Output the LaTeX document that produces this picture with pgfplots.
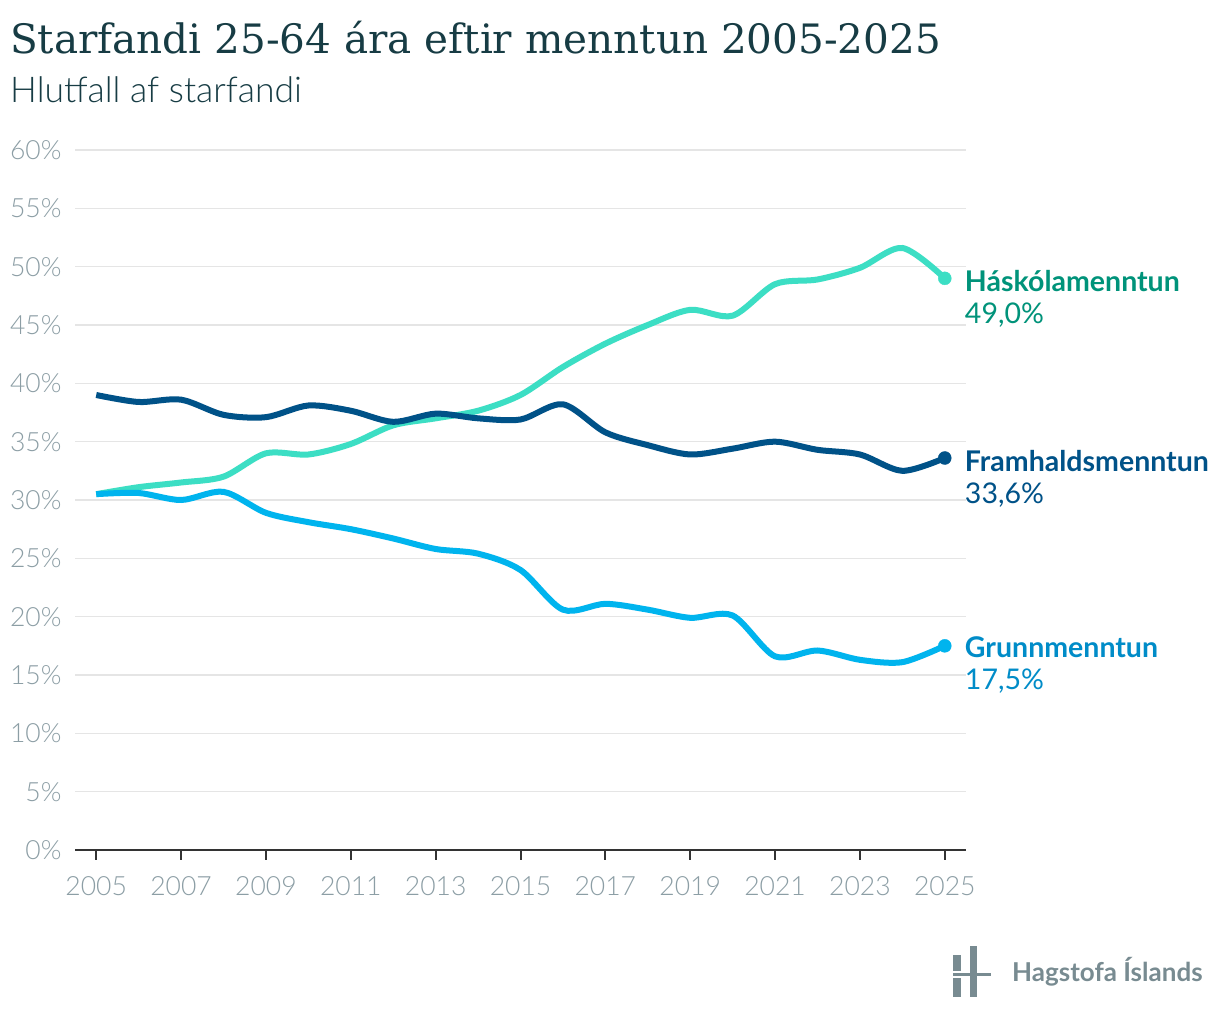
\documentclass[border=0pt]{standalone}
\usepackage{pgfplots}
\pgfplotsset{compat=1.18}
\usepackage{fontspec}
\setmainfont{Lato}
\newfontfamily\latolight{Lato Light}
\newfontfamily\titlefont{DejaVu Serif}
\definecolor{titlecol}{RGB}{23,60,68}
\definecolor{tickcol}{RGB}{140,158,165}
\definecolor{gridcol}{RGB}{229,229,229}
\definecolor{haskline}{RGB}{60,222,196}
\definecolor{hasktext}{RGB}{0,147,122}
\definecolor{framline}{RGB}{0,82,136}
\definecolor{framtext}{RGB}{0,82,136}
\definecolor{grunline}{RGB}{0,180,238}
\definecolor{gruntext}{RGB}{0,140,200}
\definecolor{logocol}{RGB}{120,139,145}

\pgfplotstableread{
year v
2005 30.5
2006 31.1
2007 31.5
2008 32.0
2009 34.0
2010 33.9
2011 34.8
2012 36.4
2013 37.0
2014 37.65
2015 39.0
2016 41.4
2017 43.4
2018 45.0
2019 46.3
2020 45.8
2021 48.5
2022 48.9
2023 49.9
2024 51.6
2025 49.0
}\haskoli

\pgfplotstableread{
year v
2005 39.0
2006 38.4
2007 38.6
2008 37.3
2009 37.1
2010 38.1
2011 37.65
2012 36.7
2013 37.4
2014 37.0
2015 36.9
2016 38.2
2017 35.8
2018 34.7
2019 33.9
2020 34.4
2021 35.0
2022 34.3
2023 33.9
2024 32.5
2025 33.6
}\framhald

\pgfplotstableread{
year v
2005 30.5
2006 30.6
2007 30.0
2008 30.7
2009 28.9
2010 28.1
2011 27.5
2012 26.7
2013 25.8
2014 25.4
2015 24.0
2016 20.6
2017 21.1
2018 20.6
2019 19.9
2020 20.1
2021 16.6
2022 17.1
2023 16.3
2024 16.1
2025 17.5
}\grunn

\begin{document}
\begin{tikzpicture}
\fill[white] (0pt,0pt) rectangle (1220pt,1022pt);
\path[use as bounding box] (0pt,0pt) rectangle (1220pt,1022pt);
\node[anchor=base west, inner sep=0pt, text=titlecol, font=\titlefont\fontsize{40.5}{46}\selectfont] at (10pt,968pt) {Starfandi 25-64 ára eftir menntun 2005-2025};
\node[anchor=base west, inner sep=0pt, text=titlecol, font=\latolight\fontsize{35.5}{40}\selectfont] at (10pt,919pt) {Hlutfall af starfandi};

\begin{axis}[
  at={(75pt,172pt)}, anchor=south west,
  width=891pt, height=700pt, scale only axis,
  xmin=2004.5, xmax=2025.5, ymin=0, ymax=60,
  axis x line*=bottom, axis y line*=left,
  x axis line style={-, draw=black!80, line width=2.5pt},
  y axis line style={draw=none},
  xtick={2005,2007,...,2025},
  ytick={0,5,...,60},
  tick align=outside,
  major tick length=10pt,
  xtick style={draw=black!80, line width=2pt},
  ytick style={draw=none},
  ymajorgrids,
  major grid style={gridcol, line width=1.5pt},
  /pgf/number format/1000 sep={},
  /pgf/number format/assume math mode=true,
  yticklabel={\pgfmathprintnumber{\tick}\%},
  ticklabel style={font=\latolight\fontsize{26.5}{30}\selectfont, text=tickcol},
  xticklabel style={yshift=-13pt},
  yticklabel style={xshift=0pt},
  clip=false,
]
\addplot[smooth, haskline, line width=6pt] table[x=year,y=v] {\haskoli};
\addplot[smooth, framline, line width=6pt] table[x=year,y=v] {\framhald};
\addplot[smooth, grunline, line width=6pt] table[x=year,y=v] {\grunn};
\addplot[only marks, mark=*, mark size=6.5pt, haskline] coordinates {(2025,49.0)};
\addplot[only marks, mark=*, mark size=6.5pt, framline] coordinates {(2025,33.6)};
\addplot[only marks, mark=*, mark size=6.5pt, grunline] coordinates {(2025,17.5)};

\node[anchor=west, inner sep=0pt, text=hasktext, font=\bfseries\fontsize{28.5}{32}\selectfont, xshift=20pt, yshift=-3pt] at (axis cs:2025,49.0) {Háskólamenntun};
\node[anchor=west, inner sep=0pt, text=hasktext, font=\fontsize{28.5}{32}\selectfont, xshift=20pt, yshift=-37pt] at (axis cs:2025,49.0) {49,0\%};
\node[anchor=west, inner sep=0pt, text=framtext, font=\bfseries\fontsize{28.5}{32}\selectfont, xshift=20pt, yshift=-3pt] at (axis cs:2025,33.6) {Framhaldsmenntun};
\node[anchor=west, inner sep=0pt, text=framtext, font=\fontsize{28.5}{32}\selectfont, xshift=20pt, yshift=-37pt] at (axis cs:2025,33.6) {33,6\%};
\node[anchor=west, inner sep=0pt, text=gruntext, font=\bfseries\fontsize{28.5}{32}\selectfont, xshift=20pt, yshift=-1pt] at (axis cs:2025,17.5) {Grunnmenntun};
\node[anchor=west, inner sep=0pt, text=gruntext, font=\fontsize{28.5}{32}\selectfont, xshift=20pt, yshift=-35pt] at (axis cs:2025,17.5) {17,5\%};
\end{axis}

% logo
\fill[logocol] (953pt,51pt) rectangle (961pt,67pt);
\fill[logocol] (953pt,25pt) rectangle (961pt,44pt);
\fill[logocol] (970pt,25pt) rectangle (977pt,76pt);
\fill[logocol] (953pt,46pt) rectangle (991pt,49pt);
\node[anchor=west, inner sep=0pt, text=logocol, font=\bfseries\fontsize{26}{30}\selectfont] at (1012pt,50pt) {Hagstofa Íslands};
\end{tikzpicture}
\end{document}
